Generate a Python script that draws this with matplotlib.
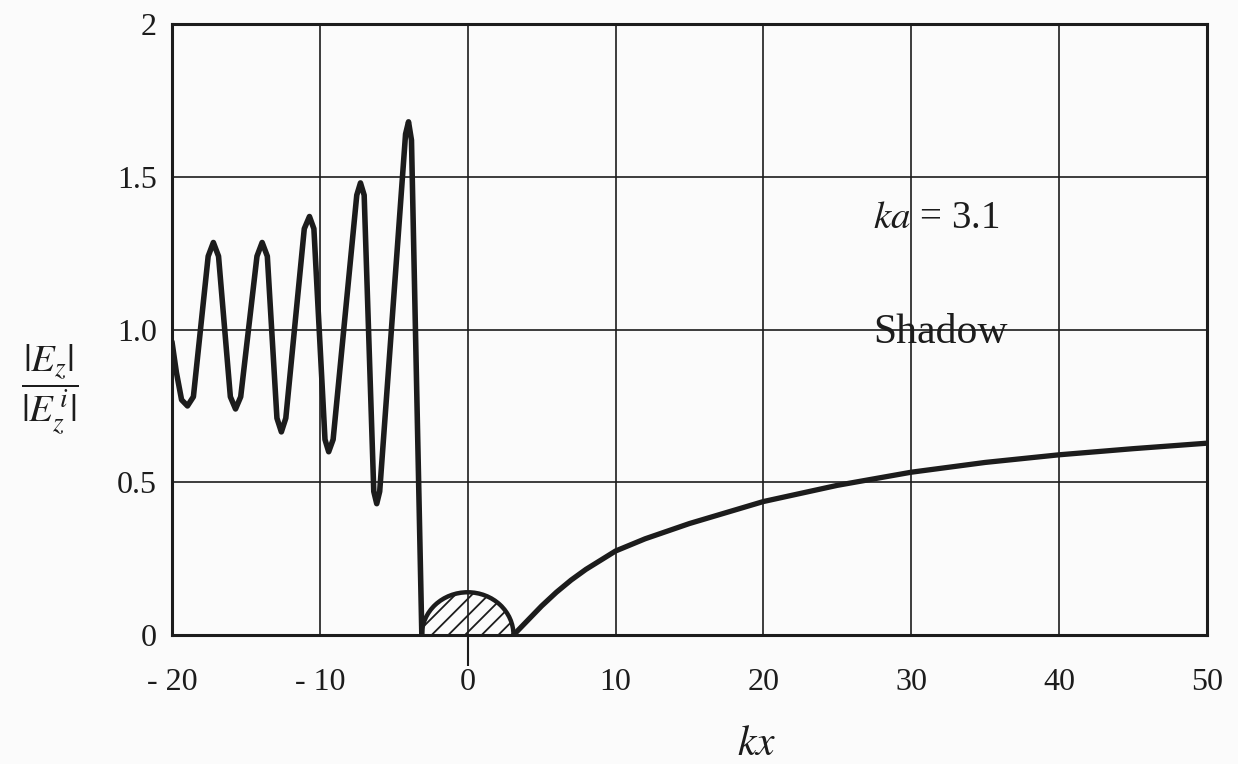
import numpy as np
import matplotlib
matplotlib.use("Agg")
import matplotlib.pyplot as plt
from matplotlib.patches import Ellipse

# ---------------------------------------------------------
# |Ez| / |Ez^i| along the kx axis, cylinder ka = 3.1
# ---------------------------------------------------------
ka = 3.1

# lit side: standing-wave pattern in front of the cylinder
lit_kx = [-20.0, -19.7, -19.35, -18.95, -18.55, -17.55, -17.2, -16.85,
          -16.05, -15.7, -15.35, -14.25, -13.9, -13.55,
          -12.9, -12.6, -12.3, -11.05, -10.7, -10.4,
          -9.65, -9.4, -9.1, -7.5, -7.25, -7.0,
          -6.35, -6.15, -5.95, -4.2, -4.0, -3.8, -3.1]
lit_E = [0.96, 0.86, 0.77, 0.75, 0.78, 1.24, 1.285, 1.24,
         0.78, 0.74, 0.78, 1.24, 1.285, 1.24,
         0.71, 0.665, 0.71, 1.33, 1.37, 1.33,
         0.64, 0.60, 0.64, 1.44, 1.48, 1.44,
         0.47, 0.43, 0.47, 1.64, 1.68, 1.62, 0.0]

# shadow side
shadow_kx = [3.1, 4, 5, 6, 7, 8, 10, 12, 15, 20, 25, 30, 35, 40, 45, 50]
shadow_E = [0.0, 0.045, 0.095, 0.14, 0.18, 0.215, 0.275, 0.315, 0.365,
            0.437, 0.49, 0.533, 0.565, 0.59, 0.61, 0.628]

xticks = [-20, -10, 0, 10, 20, 30, 40, 50]
xtick_labels = ["- 20", "- 10", "0", "10", "20", "30", "40", "50"]
yticks = [0, 0.5, 1.0, 1.5, 2]
ytick_labels = ["0", "0.5", "1.0", "1.5", "2"]

ink = "#1c1c1c"
plt.rcParams["font.family"] = ["Liberation Serif", "DejaVu Serif"]
plt.rcParams["mathtext.fontset"] = "stix"
plt.rcParams["hatch.linewidth"] = 1.3
plt.rcParams["hatch.color"] = ink

fig = plt.figure(figsize=(12.38, 7.64), dpi=100, facecolor="#fbfbfb")
ax = fig.add_axes([0.1389, 0.1688, 0.836, 0.7997])
ax.set_facecolor("#fbfbfb")

ax.set_xlim(-20, 50)
ax.set_ylim(0, 2)
ax.set_xticks(xticks)
ax.set_xticklabels(xtick_labels)
ax.set_yticks(yticks)
ax.set_yticklabels(ytick_labels)
ax.tick_params(axis="x", length=0, pad=24, labelsize=23, colors=ink)
ax.tick_params(axis="y", length=0, pad=11, labelsize=23, colors=ink)

# short outward tick under kx = 0
ax.xaxis.remove_overlapping_locs = False
ax.set_xticks([0], minor=True)
ax.tick_params(axis="x", which="minor", length=22, width=1.5,
               direction="out", color=ink)

ax.grid(True, color=ink, linewidth=1.2)
ax.set_axisbelow(True)
for s in ax.spines.values():
    s.set_linewidth(2.2)
    s.set_color(ink)

# curves
ax.plot(lit_kx, lit_E, color=ink, linewidth=4.0,
        solid_joinstyle="round", solid_capstyle="round", zorder=3)
ax.plot(shadow_kx, shadow_E, color=ink, linewidth=3.8,
        solid_joinstyle="round", solid_capstyle="round", zorder=3)

# cylinder cross-section (hatched)
cyl = Ellipse((0, 0), 2 * ka, 0.28, facecolor="none", edgecolor=ink,
              linewidth=3.2, hatch="//", zorder=2)
ax.add_patch(cyl)

# labels
ax.text(27.4, 1.332, r"$ka$ = 3.1", fontsize=28, color=ink,
        ha="left", va="baseline")
ax.text(27.4, 0.955, "Shadow", fontsize=30, color=ink,
        ha="left", va="baseline")

fig.text(757 / 1238, 9 / 764, r"$kx$", fontsize=30, color=ink,
         ha="center", va="baseline")
fig.text(50 / 1238, 1 - 390 / 764, r"$\dfrac{|E_z|}{|E_z^{\,i}|}$",
         fontsize=28, color=ink, ha="center", va="center")

fig.savefig("out.png", dpi=100, facecolor=fig.get_facecolor())
